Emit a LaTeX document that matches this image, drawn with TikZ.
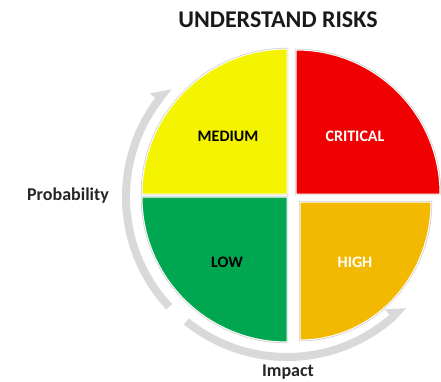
\documentclass[tikz,border=0pt]{standalone}
\usepackage{fontspec}
\setmainfont{Carlito}
\begin{document}
\begin{tikzpicture}[x=1pt,y=1pt,
  quad/.style={draw=black!20, line width=2.4pt},
  quadfill/.style={draw=white, line width=1pt},
  zone/.style={font=\bfseries\fontsize{16}{16}\selectfont},
  axis/.style={font=\bfseries\fontsize{18}{18}\selectfont, text=black!85},
  sweep/.style={fill=black!15, draw=none}]
\useasboundingbox (0,0) rectangle (441,381);
\definecolor{zyellow}{RGB}{244,244,0}
\definecolor{zred}{RGB}{240,0,0}
\definecolor{zgreen}{RGB}{0,166,80}
\definecolor{zorange}{RGB}{243,184,0}

% title
\node[font=\bfseries\fontsize{24}{24}\selectfont, text=black!90] (title) at (278,361) {UNDERSTAND RISKS};

% curved arrows around the circle
\begin{scope}[shift={(287,184)}]
  % probability: rising along the left side
  \fill[sweep] (223:157) arc[start angle=223, end angle=143, radius=157]
    -- (137:158) -- (143:172) -- (143:165)
    arc[start angle=143, end angle=223, radius=165] -- cycle;
  % impact: running along the bottom
  \fill[sweep] (231:164) arc[start angle=231, end angle=311, radius=164]
    -- (317:163) -- (311:149) -- (311:156)
    arc[start angle=311, end angle=231, radius=156] -- cycle;
\end{scope}

% quadrant outlines (soft edge)
\draw[quad] (287,187) -- (142,187) arc[start angle=180, end angle=90, radius=145] -- cycle;
\draw[quad] (296,187) -- (296,331) arc[start angle=90, end angle=0, radius=144] -- cycle;
\draw[quad] (287,184) -- (287,39) arc[start angle=270, end angle=180, radius=145] -- cycle;
\draw[quad] (300,179) -- (300,41) arc[start angle=270, end angle=360, x radius=131, y radius=138] -- cycle;

% quadrant faces
\filldraw[quadfill, fill=zyellow] (287,187) -- (142,187) arc[start angle=180, end angle=90, radius=145] -- cycle;
\filldraw[quadfill, fill=zred] (296,187) -- (296,331) arc[start angle=90, end angle=0, radius=144] -- cycle;
\filldraw[quadfill, fill=zgreen] (287,184) -- (287,39) arc[start angle=270, end angle=180, radius=145] -- cycle;
\filldraw[quadfill, fill=zorange] (300,179) -- (300,41) arc[start angle=270, end angle=360, x radius=131, y radius=138] -- cycle;

% zone labels
\node[zone, text=black] (medium) at (228,245) {MEDIUM};
\node[zone, text=white] (critical) at (355,245) {CRITICAL};
\node[zone, text=black] (low) at (227,119) {LOW};
\node[zone, text=white] (high) at (355,119) {HIGH};

% axis labels
\node[axis] (prob) at (68,185) {Probability};
\node[axis] (impact) at (288,9) {Impact};
\end{tikzpicture}
\end{document}
